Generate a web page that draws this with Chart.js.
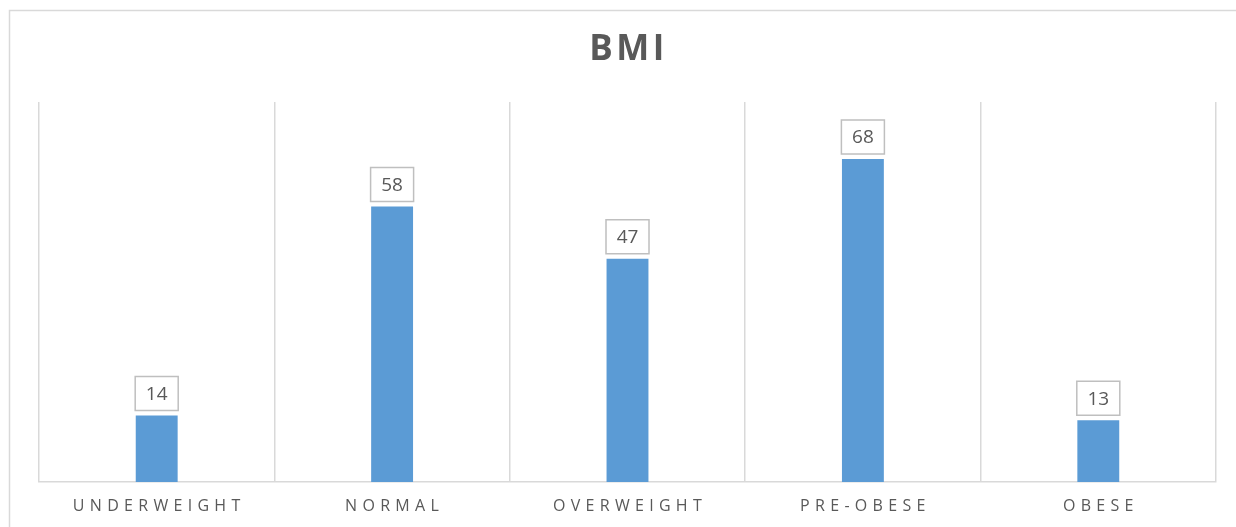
<!DOCTYPE html>
<html>
<head>
<meta charset="utf-8">
<title>BMI</title>
<script src="https://cdn.jsdelivr.net/npm/chart.js@4.4.1/dist/chart.umd.min.js"></script>
<style>
	html, body { margin: 0; padding: 0; background: #fff; }
	#wrap { width: 1236px; height: 527px; position: relative; }
</style>
</head>
<body>
<div id="wrap"><canvas id="Chart_BMI"></canvas></div>
<script>
const categories = ['UNDERWEIGHT', 'NORMAL', 'OVERWEIGHT', 'PRE-OBESE', 'OBESE'];
const counts = [14, 58, 47, 68, 13];
const y_max = 80;

const text_color = '#595959';
const line_color = '#d9d9d9';
const font_family = '"Open Sans", "Liberation Sans", sans-serif';

// frame, title, value boxes and spaced category names
const decorations = {
	id: 'decorations',
	beforeDraw(chart) {
		const ctx = chart.ctx;
		ctx.save();
		ctx.strokeStyle = line_color;
		ctx.lineWidth = 1.5;
		ctx.beginPath();
		ctx.moveTo(9.5, chart.height);
		ctx.lineTo(9.5, 10.5);
		ctx.lineTo(chart.width, 10.5);
		ctx.stroke();
		ctx.restore();
	},
	afterDraw(chart) {
		const ctx = chart.ctx;
		const area = chart.chartArea;
		const x_scale = chart.scales.x;
		const meta = chart.getDatasetMeta(0);

		ctx.save();
		ctx.fillStyle = text_color;
		ctx.textAlign = 'center';
		ctx.textBaseline = 'middle';

		ctx.font = `bold 35px ${font_family}`;
		ctx.letterSpacing = '3.5px';
		ctx.fillText('BMI', (area.left + area.right) / 2 + 1, 50);

		ctx.font = `16px ${font_family}`;
		ctx.letterSpacing = '5.3px';
		categories.forEach(function(name, idx) {
			ctx.fillText(name, x_scale.getPixelForValue(idx) + 2.5, 506);
		});

		ctx.letterSpacing = '0px';
		ctx.font = `19px ${font_family}`;
		meta.data.forEach(function(bar, idx) {
			const w = 43, h = 34;
			const bx = bar.x - w / 2;
			const by = bar.y - 5 - h;
			ctx.fillStyle = '#ffffff';
			ctx.fillRect(bx, by, w, h);
			ctx.strokeStyle = '#bfbfbf';
			ctx.lineWidth = 1.5;
			ctx.strokeRect(bx, by, w, h);
			ctx.fillStyle = text_color;
			ctx.fillText(String(counts[idx]), bar.x, by + h / 2 + 1);
		});
		ctx.restore();
	}
};

function init() {
	const chart_ctx = document.getElementById('Chart_BMI').getContext('2d');

	const chart_data = {
		labels: categories,
		datasets: [{
			label: 'BMI',
			backgroundColor: '#5b9bd5',
			borderWidth: 0,
			categoryPercentage: 1,
			barPercentage: 0.178,
			data: counts
		}]
	};

	const options = {
		responsive: true,
		maintainAspectRatio: false,
		animation: false,
		layout: {
			padding: { left: 39, right: 20, top: 102, bottom: 45 }
		},
		scales: {
			x: {
				grid: { display: true, offset: true, color: line_color, lineWidth: 1.5, drawTicks: false },
				border: { display: true, color: line_color, width: 1.5 },
				ticks: { display: false }
			},
			y: {
				display: false,
				min: 0,
				max: y_max
			}
		},
		plugins: {
			legend: { display: false },
			tooltip: { enabled: false }
		}
	};

	new Chart(chart_ctx, {
		type: 'bar',
		data: chart_data,
		options: options,
		plugins: [decorations]
	});
}

window.onload = init;
</script>
</body>
</html>
